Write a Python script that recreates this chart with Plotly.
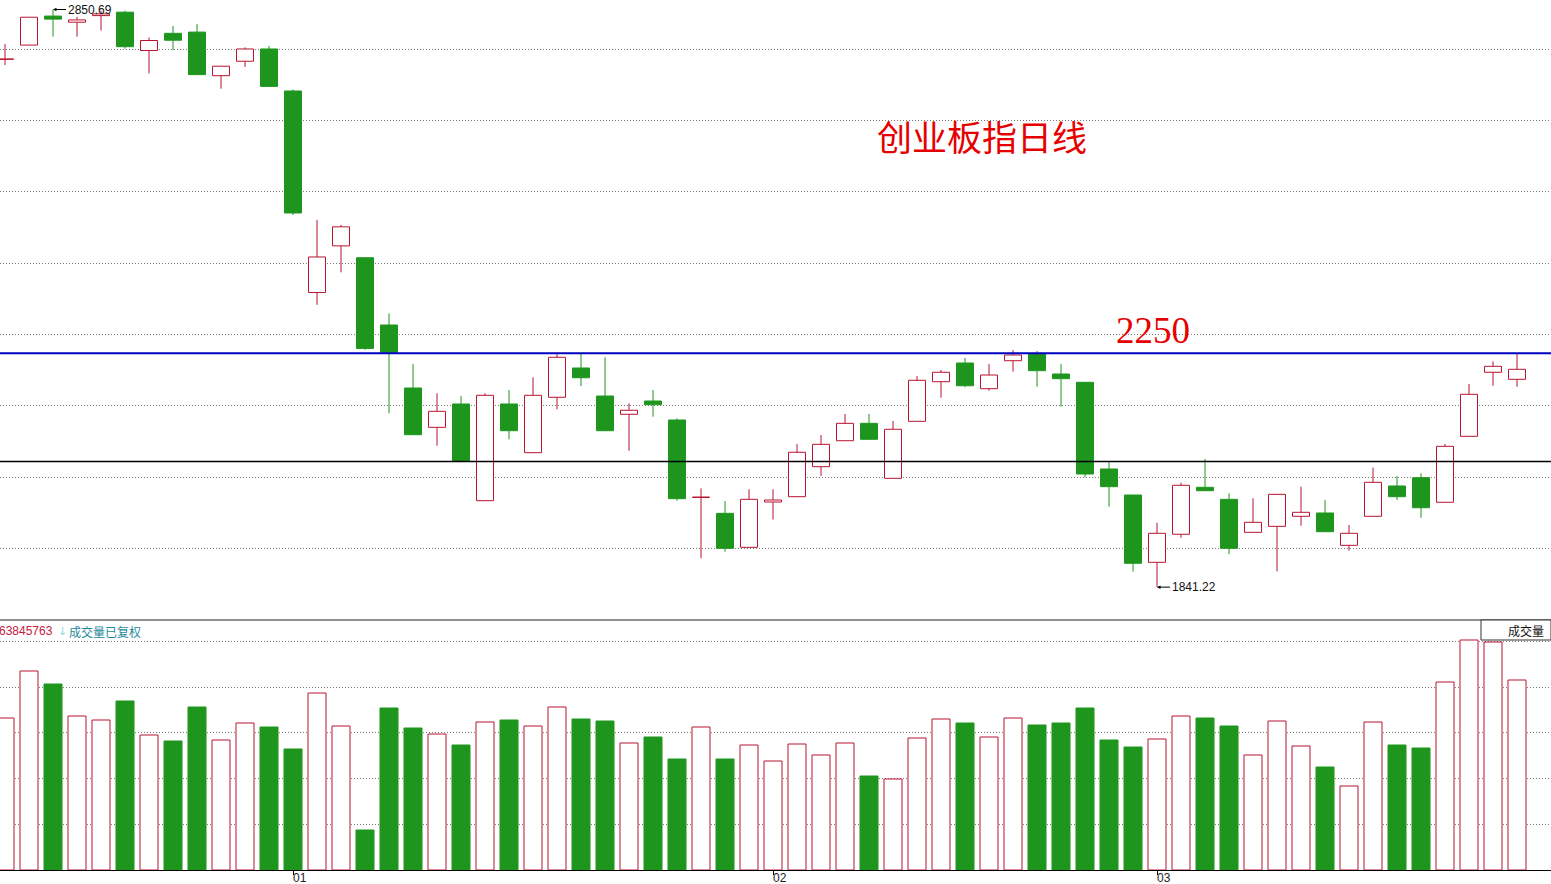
import plotly.graph_objects as go

# ---- data (创业板指 daily) ----
idx = list(range(64))
opens = [2763.5, 2788.5, 2839.2, 2828.5, 2840.0, 2846.0, 2779.0, 2809.1, 2811.2, 2735.0,
         2760.3, 2781.7, 2708.3, 2356.1, 2437.6, 2416.9, 2299.3, 2189.2, 2120.5, 2161.3,
         1992.3, 2161.3, 2076.2, 2173.0, 2224.2, 2175.2, 2143.3, 2166.5, 2133.3, 1997.9,
         1970.2, 1910.8, 1990.0, 1999.3, 2051.7, 2097.1, 2127.5, 2031.4, 2131.0, 2200.2,
         2232.9, 2188.0, 2236.9, 2249.5, 2213.7, 2199.2, 2047.7, 2002.2, 1884.6, 1933.6,
         2015.7, 1994.7, 1937.0, 1947.5, 1965.0, 1970.8, 1914.3, 1965.0, 2018.0, 2032.5,
         1989.5, 2104.8, 2216.7, 2204.4]
closes = [2763.9, 2837.2, 2833.9, 2832.5, 2843.0, 2785.7, 2796.5, 2797.0, 2736.9, 2751.6,
          2781.7, 2716.3, 2495.1, 2418.2, 2470.9, 2258.4, 2251.6, 2107.6, 2148.5, 2061.1,
          2176.5, 2114.6, 2176.5, 2242.9, 2207.2, 2114.6, 2150.3, 2160.0, 1995.8, 1998.6,
          1909.1, 1994.7, 1993.5, 2076.9, 2090.8, 2127.5, 2099.6, 2117.1, 2202.7, 2216.7,
          2193.2, 2211.9, 2246.9, 2219.5, 2205.5, 2038.9, 2016.8, 1882.9, 1935.3, 2019.2,
          2009.7, 1909.1, 1954.5, 2003.4, 1972.0, 1938.1, 1935.3, 2024.4, 1999.3, 1980.0,
          2087.3, 2178.2, 2227.1, 2221.9]
highs = [2790.4, 2837.4, 2850.69, 2837.9, 2848.5, 2848.6, 2801.8, 2821.9, 2825.2, 2752.0,
         2784.5, 2787.1, 2710.9, 2483.0, 2474.3, 2418.2, 2319.8, 2231.2, 2180.0, 2175.2,
         2180.0, 2185.7, 2207.9, 2248.6, 2248.6, 2242.9, 2162.5, 2185.7, 2136.3, 2013.9,
         1991.7, 2012.2, 2012.2, 2091.4, 2107.1, 2143.8, 2143.8, 2131.6, 2210.2, 2220.7,
         2241.7, 2231.2, 2255.6, 2253.9, 2231.2, 2199.7, 2060.4, 2002.2, 1953.8, 2023.7,
         2065.1, 2005.2, 1996.5, 2004.0, 2016.8, 1993.5, 1949.8, 2049.9, 2035.4, 2040.2,
         2091.4, 2196.2, 2235.9, 2248.6]
lows = [2753.7, 2788.1, 2803.2, 2803.2, 2813.8, 2782.4, 2739.0, 2779.7, 2736.2, 2712.3,
        2750.4, 2715.3, 2491.6, 2334.6, 2391.4, 2255.8, 2145.0, 2107.1, 2088.4, 2060.8,
        1991.7, 2099.6, 2075.6, 2152.0, 2192.7, 2114.1, 2079.7, 2139.1, 1992.3, 1891.6,
        1903.1, 1910.5, 1959.4, 1998.7, 2035.4, 2096.6, 2099.2, 2031.1, 2130.7, 2172.3,
        2190.4, 2184.5, 2217.7, 2191.5, 2156.5, 2033.2, 1981.8, 1868.2, 1841.22, 1927.6,
        2009.2, 1898.6, 1936.7, 1868.9, 1948.6, 1937.6, 1904.9, 1964.7, 1993.5, 1962.6,
        1989.1, 2104.5, 2193.2, 2191.5]
volumes = [152, 199, 186, 154, 150, 169, 135, 129, 163, 130,
           147, 143, 121, 177, 144, 40, 162, 142, 136, 125,
           148, 150, 144, 163, 151, 149, 127, 133, 111, 143,
           111, 125, 109, 126, 115, 127, 94, 91, 132, 151,
           147, 133, 152, 145, 147, 162, 130, 123, 131, 154,
           152, 144, 115, 149, 124, 103, 84, 148, 125, 122,
           188, 230, 228, 190]
month_ticks = [12, 32, 48]
month_labels = ["01", "02", "03"]
level_line = 2250
ref_line = 2061
price_grid = [1909.1, 2033.7, 2158.3, 2282.9, 2407.5, 2532.1, 2656.7, 2781.3]
vol_grid = [45.7, 91.4, 137.1, 182.8, 228.5]
hi_label = (2, 2850.69)
lo_label = (48, 1841.22)

RED = "#B8142F"
GREEN = "#1E961E"
TXT_RED = "#E60000"
GRID = "#7a7a7a"

up = [c >= o for o, c in zip(opens, closes)]

fig = go.Figure()

# wicks
for is_up, col in [(True, RED), (False, GREEN)]:
    xs, ys = [], []
    for i in idx:
        if up[i] != is_up:
            continue
        top = max(opens[i], closes[i])
        bot = min(opens[i], closes[i])
        xs += [i, i, None, i, i, None]
        ys += [highs[i], top, None, bot, lows[i], None]
    fig.add_trace(go.Scatter(x=xs, y=ys, mode="lines", line=dict(color=col, width=1),
                             hoverinfo="skip", showlegend=False, xaxis="x", yaxis="y"))

BW = 17 / 24
VW = 18 / 24

# bodies
ux = [i for i in idx if up[i]]
dx = [i for i in idx if not up[i]]
fig.add_trace(go.Bar(x=ux, base=[opens[i] for i in ux],
                     y=[max(closes[i] - opens[i], 0.8) for i in ux], width=BW,
                     marker=dict(color="white", line=dict(color=RED, width=1)),
                     showlegend=False, xaxis="x", yaxis="y"))
fig.add_trace(go.Bar(x=dx, base=[closes[i] for i in dx],
                     y=[opens[i] - closes[i] for i in dx], width=BW,
                     marker=dict(color=GREEN, line=dict(color=GREEN, width=1)),
                     showlegend=False, xaxis="x", yaxis="y"))

# volume
fig.add_trace(go.Bar(x=ux, y=[volumes[i] for i in ux], width=VW,
                     marker=dict(color="white", line=dict(color=RED, width=1)),
                     showlegend=False, xaxis="x", yaxis="y2"))
fig.add_trace(go.Bar(x=dx, y=[volumes[i] for i in dx], width=VW,
                     marker=dict(color=GREEN, line=dict(color=GREEN, width=1)),
                     showlegend=False, xaxis="x", yaxis="y2"))

H = 884
PH = 870  # plot height
split = 1 - 620 / PH

fig.update_layout(
    width=1551, height=H,
    margin=dict(l=0, r=0, t=0, b=H - PH),
    paper_bgcolor="white", plot_bgcolor="white",
    barmode="overlay",
    showlegend=False,
    xaxis=dict(range=[-5 / 24, (1551 - 5) / 24], anchor="y2", showgrid=False, zeroline=False,
               showline=True, linecolor="black", linewidth=1,
               tickvals=month_ticks, ticktext=["" for _ in month_ticks],
               ticks="outside", ticklen=4, tickcolor="black", tickwidth=1),
    yaxis=dict(domain=[split, 1], range=[1783.8, 2867.29], tickvals=price_grid,
               showticklabels=False, showgrid=True, gridcolor=GRID, griddash="1px,2px",
               gridwidth=1, zeroline=False, showline=False),
    yaxis2=dict(domain=[0, split], range=[0, 250], tickvals=vol_grid,
                showticklabels=False, showgrid=True, gridcolor=GRID, griddash="1px,2px",
                gridwidth=1, zeroline=False, showline=False),
)

shapes = [
    dict(type="line", xref="paper", x0=0, x1=1, yref="y", y0=level_line, y1=level_line,
         line=dict(color="#0000C0", width=2), layer="above"),
    dict(type="line", xref="paper", x0=0, x1=1, yref="y", y0=ref_line, y1=ref_line,
         line=dict(color="black", width=1.5), layer="above"),
    dict(type="line", xref="paper", x0=0, x1=1, yref="paper", y0=split, y1=split,
         line=dict(color="#6a6a6a", width=1.5), layer="above"),
    dict(type="rect", xref="paper", x0=1481 / 1551, x1=1.0, yref="paper",
         y0=1 - 640 / PH, y1=split, line=dict(color="#333333", width=1),
         fillcolor="white", layer="above"),
]
fig.update_layout(shapes=shapes)

ann = []
for xv, yv in [hi_label, lo_label]:
    ann.append(dict(x=xv, y=yv, xref="x", yref="y", text=f"{yv:.2f}", showarrow=True,
                    ax=13, ay=0, xanchor="left", arrowhead=2, arrowsize=0.7, arrowwidth=1,
                    arrowcolor="black", standoff=0,
                    font=dict(family="Liberation Sans", size=12, color="#111111")))
ann.append(dict(x=875 / 1551, y=1 - 136 / PH, xref="paper", yref="paper", xanchor="left",
                yanchor="middle", text="创业板指日线", showarrow=False,
                font=dict(family="Noto Sans CJK SC", size=35, color=TXT_RED)))
ann.append(dict(x=1114 / 1551, y=level_line, xref="paper", yref="y", xanchor="left",
                yanchor="bottom", text=str(level_line), showarrow=False,
                font=dict(family="Liberation Serif", size=37, color=TXT_RED)))
for t, lab in zip(month_ticks, month_labels):
    ann.append(dict(x=t, y=0, xref="x", yref="paper", xanchor="center", yanchor="middle",
                    xshift=7, yshift=-8, text=lab, showarrow=False,
                    font=dict(family="Liberation Sans", size=12, color="#222222")))
ann.append(dict(x=55 / 1551, y=1 - 631 / PH, xref="paper", yref="paper", xanchor="right",
                yanchor="middle", text="63845763", showarrow=False,
                font=dict(family="Liberation Sans", size=12, color="#C8203C")))
ann.append(dict(x=56 / 1551, y=1 - 631 / PH, xref="paper", yref="paper", xanchor="left",
                yanchor="middle", text="↓", showarrow=False,
                font=dict(family="DejaVu Sans", size=11, color="#8fd8e8")))
ann.append(dict(x=67 / 1551, y=1 - 631 / PH, xref="paper", yref="paper", xanchor="left",
                yanchor="middle", text="成交量已复权", showarrow=False,
                font=dict(family="Noto Sans CJK SC", size=12, color="#1f8a9c")))
ann.append(dict(x=1546 / 1551, y=1 - 630.5 / PH, xref="paper", yref="paper", xanchor="right",
                yanchor="middle", text="成交量", showarrow=False,
                font=dict(family="Noto Sans CJK SC", size=12, color="#111111")))
fig.update_layout(annotations=ann)

fig.write_html("out.html", config={"displayModeBar": False},
               post_script="document.body.style.margin='0';document.body.style.overflow='hidden';")
